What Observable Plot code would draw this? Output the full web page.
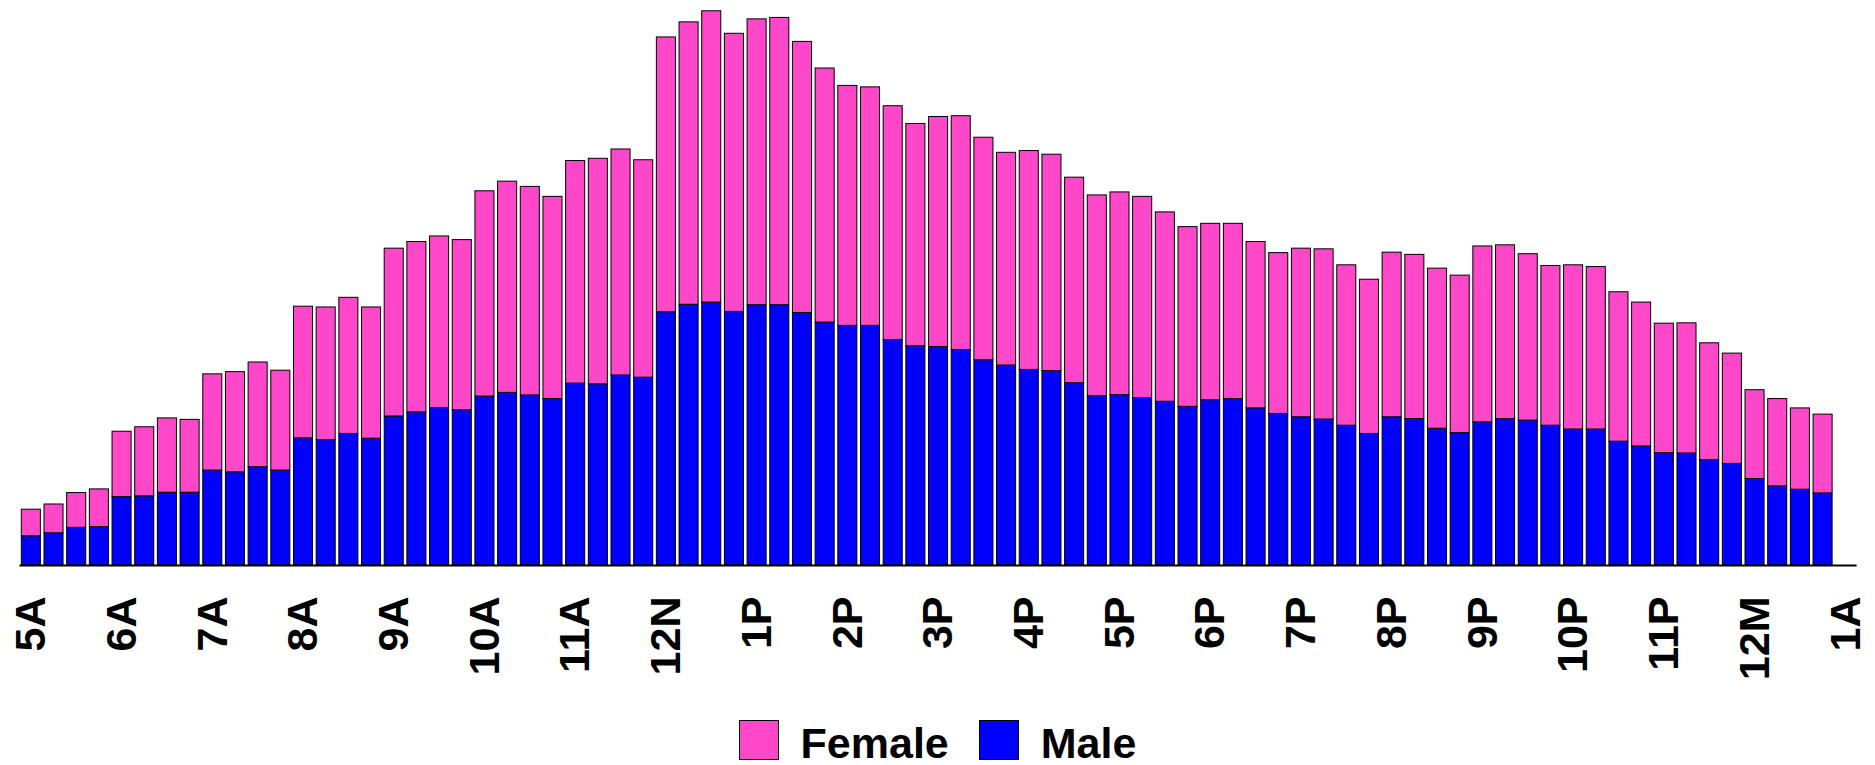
<!DOCTYPE html>
<html>
<head>
<meta charset="utf-8">
<script src="https://cdn.jsdelivr.net/npm/d3@7"></script>
<script src="https://cdn.jsdelivr.net/npm/@observablehq/plot@0.6"></script>
<style>
  html, body { margin: 0; padding: 0; background: #fff; }
  #chart svg { display: block; }
  .legend { display: flex; justify-content: center; align-items: center; height: 40px; margin-top: 20px;
    font-family: "Liberation Sans", Arial, sans-serif; font-weight: bold; font-size: 43px; }
  .sw { width: 40px; height: 40px; box-sizing: border-box; border: 1px solid #000; }
  .lab { margin-left: 22px; margin-right: 30px; line-height: 40px; position: relative; top: 3px; }
  .lab:last-child { margin-right: 0; }
</style>
</head>
<body>
<div id="chart"></div>
<div class="legend">
  <div class="sw" style="background:#ff47c9"></div><div class="lab">Female</div>
  <div class="sw" style="background:#0000ff"></div><div class="lab">Male</div>
</div>
<script>
// Quarter-hour slots from 5A to 1A (80 bars); hour labels every 4 slots
const hourLabels = ["5A","6A","7A","8A","9A","10A","11A","12N","1P","2P","3P","4P","5P","6P","7P","8P","9P","10P","11P","12M","1A"];
const series = ["Female", "Male"];
const colors = ["#ff47c9", "#0000ff"];

const male = [
  26.3,29,34,34.6,61.6,62.3,65.6,65.6,85.6,84,
  88.6,85.6,114.6,113,118.6,114.3,134.3,138,142,140,
  152.3,155.6,153.3,150,164,163.3,171.3,169.3,228.3,235,
  237,228.6,234.6,234.6,227.6,219,216,216,203.3,197.6,
  197,194.3,185,180.3,176.3,175.3,164.3,152.6,153.6,151,
  147.6,143,149,150,141.6,136.6,133.6,131.6,126,118.6,
  133.6,132,123.3,119.3,129,132,130.6,126,122.6,122.6,
  111.6,107.3,101.3,101,95,91.6,78,71.3,68.3,65
];
const female = [
  24,26,31.3,34,59,62.3,67,65.7,86.7,90.3,
  94.4,90,118.7,119.6,122.7,118.3,151.3,153.6,154.6,153.3,
  185,190.4,188,182.3,200.6,203.3,203.7,196,247.7,254.6,
  262.6,250.7,257.7,259,244.4,229,216.3,215,210.7,200.4,
  207.3,210.7,200.6,191.7,197.3,195,185.3,181,182.7,181.3,
  170.7,162,159,158,150,145,152,153.4,144.6,139,
  148.4,148,144.3,142,158.6,156.6,150,144,148,146.4,
  134.7,129.7,116.7,117.3,105.3,99.4,80,78.7,73.3,71
];

const data = [];
male.forEach((v, i) => data.push({slot: i, sex: "Male", value: v}));
female.forEach((v, i) => data.push({slot: i, sex: "Female", value: v}));

const slots = d3.range(hourLabels.length * 4 - 3); // 0..80
const tickSlots = d3.range(0, slots.length, 4);

const chart = Plot.plot({
  width: 1875,
  height: 700,
  marginLeft: 19.5,
  marginRight: 18.4,
  marginTop: 0,
  marginBottom: 135,
  style: {fontFamily: "'Liberation Sans', Arial, sans-serif", background: "#fff"},
  x: {type: "band", domain: slots, paddingInner: 0.16, paddingOuter: 0.08, axis: null, label: null},
  y: {domain: [0, 509.3], axis: null},
  color: {domain: series, range: colors},
  marks: [
    Plot.barY(data, {x: "slot", y: "value", fill: "sex", order: ["Male", "Female"], stroke: "#000", strokeWidth: 1}),
    Plot.ruleY([0], {stroke: "#000", strokeWidth: 2}),
    Plot.axisX({
      ticks: tickSlots,
      tickFormat: (d) => hourLabels[d / 4],
      tickRotate: -90,
      tickSize: 0,
      tickPadding: 31,
      fontSize: 43,
      fontWeight: "bold",
      fill: "#000",
      label: null
    })
  ]
});
document.getElementById("chart").appendChild(chart);
</script>
</body>
</html>
